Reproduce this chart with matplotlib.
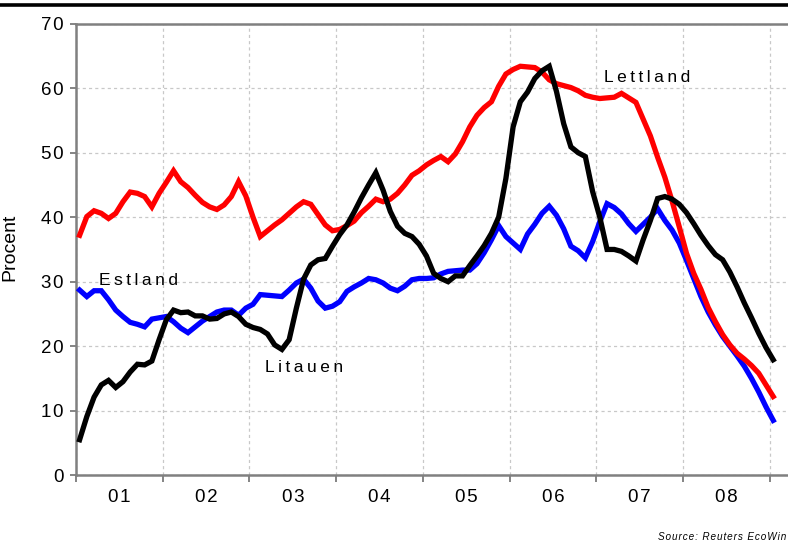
import numpy as np
import matplotlib
matplotlib.use("Agg")
import matplotlib.pyplot as plt
from matplotlib.lines import Line2D

plt.rcParams['font.family'] = ['Liberation Sans', 'DejaVu Sans']

# monthly values, Jan 2001 .. Jan 2009 (mid-month)
lettland = [37.2, 40.1, 41.0, 40.6, 39.8, 40.6, 42.4, 43.9, 43.7, 43.2, 41.6, 43.7,
            45.4, 47.2, 45.5, 44.6, 43.4, 42.3, 41.6, 41.2, 41.9, 43.2, 45.5, 43.3,
            40.0, 37.0, 37.9, 38.8, 39.6, 40.6, 41.6, 42.4, 42.0, 40.4, 38.8, 37.9,
            38.1, 38.7, 39.4, 40.7, 41.7, 42.8, 42.4, 42.8, 43.7, 45.0, 46.5, 47.2,
            48.1, 48.8, 49.4, 48.6, 49.8, 51.7, 54.0, 55.8, 57.0, 57.9, 60.3, 62.2,
            62.9, 63.4, 63.3, 63.2, 62.5, 61.3, 60.7, 60.4, 60.1, 59.6, 58.9, 58.6,
            58.4, 58.5, 58.6, 59.2, 58.5, 57.8, 55.2, 52.6, 49.3, 46.2, 42.5, 38.5,
            34.4, 31.3, 28.8, 26.0, 23.8, 21.8, 20.2, 18.9, 18.0, 17.0, 15.8, 14.0,
            12.2]
estland = [28.7, 27.7, 28.6, 28.6, 27.2, 25.6, 24.6, 23.7, 23.4, 23.0, 24.2, 24.4,
           24.6, 23.8, 22.8, 22.1, 23.0, 23.9, 24.6, 25.3, 25.6, 25.6, 24.8, 25.9,
           26.5, 28.0, 27.9, 27.8, 27.7, 28.7, 29.8, 30.4, 29.0, 27.0, 25.9, 26.2,
           26.9, 28.5, 29.2, 29.8, 30.5, 30.3, 29.8, 29.0, 28.6, 29.3, 30.3, 30.5,
           30.5, 30.6, 31.2, 31.6, 31.7, 31.8, 31.8, 32.8, 34.5, 36.5, 38.7, 37.0,
           36.0, 35.0, 37.4, 38.9, 40.6, 41.7, 40.3, 38.2, 35.5, 34.8, 33.7, 36.2,
           39.3, 42.1, 41.5, 40.5, 39.0, 37.8, 38.9, 40.0, 41.3, 39.5, 38.0, 36.0,
           33.3, 30.5, 27.7, 25.3, 23.3, 21.5, 20.0, 18.5, 16.9, 15.0, 12.9, 10.6,
           8.5]
litauen = [5.5, 9.1, 12.1, 14.0, 14.7, 13.6, 14.5, 16.0, 17.2, 17.1, 17.7, 21.0,
           24.1, 25.6, 25.2, 25.3, 24.7, 24.7, 24.2, 24.3, 25.0, 25.3, 24.6, 23.4,
           22.9, 22.6, 21.9, 20.2, 19.5, 21.0, 25.9, 30.4, 32.6, 33.4, 33.6, 35.5,
           37.3, 38.8, 40.8, 43.0, 45.0, 46.9, 44.2, 40.9, 38.6, 37.5, 37.0, 35.8,
           34.0, 31.3, 30.5, 30.0, 30.9, 30.9, 32.5, 34.0, 35.6, 37.5, 40.0, 46.0,
           54.0, 57.9, 59.4, 61.5, 62.7, 63.4, 59.5, 54.5, 50.9, 50.0, 49.4, 44.0,
           40.0, 35.0, 35.0, 34.7, 34.0, 33.2, 36.5, 39.5, 42.9, 43.2, 42.8, 42.0,
           40.7, 39.0, 37.2, 35.6, 34.2, 33.4, 31.5, 29.2, 26.7, 24.4, 22.0, 19.8,
           17.9]

years = [2001, 2002, 2003, 2004, 2005, 2006, 2007, 2008]
year_labels = ["01", "02", "03", "04", "05", "06", "07", "08"]

t = 2001 + (np.arange(len(lettland)) + 0.5) / 12.0


def spaced(s, sp='\u200a'):
    return sp.join(s)


fig = plt.figure(figsize=(7.88, 5.41), dpi=100)
ax = fig.add_axes([76 / 788, 1 - 475.2 / 541, 1 - 76 / 788, (475.2 - 23.7) / 541])

ax.plot(t, estland, color='#0000ff', lw=3.8, solid_joinstyle='miter', zorder=3)
ax.plot(t, lettland, color='#ff0000', lw=3.8, solid_joinstyle='miter', zorder=4)
ax.plot(t, litauen, color='black', lw=3.8, solid_joinstyle='miter', zorder=5)

ax.set_xlim(2001, 2001 + (788 - 76) / 86.7)
ax.set_ylim(0, 70)

ax.set_yticks(range(0, 71, 10))
ax.set_yticklabels([spaced(str(v)) for v in range(0, 71, 10)], fontsize=13.5)
ax.set_xticks(years + [2009])
ax.set_xticklabels([])
ax.set_xticks([y + 0.5 for y in years], minor=True)
ax.set_xticklabels([spaced(s) for s in year_labels], minor=True, fontsize=13.5)
ax.tick_params(axis='x', which='major', length=5, width=1.2, color='#707070', direction='out')
ax.tick_params(axis='x', which='minor', length=0, pad=10)
ax.tick_params(axis='y', length=4, width=1.2, color='#707070', pad=5)

ax.grid(True, which='major', color='#c8c8c8', lw=0.9, linestyle=(0, (2.5, 2.5)))
ax.set_axisbelow(True)

for side in ['left', 'bottom', 'top']:
    ax.spines[side].set_color('#808080')
    ax.spines[side].set_linewidth(1.8)
ax.spines['right'].set_visible(False)

ax.set_ylabel('Procent', fontsize=14)
ax.yaxis.set_label_coords((18 - 76) / 712, (475.2 - 247.5) / 451.5)

ax.text(2001.27, 29.5, spaced('Estland', '\u2009'), fontsize=12.5, ha='left', va='baseline')
ax.text(2003.18, 16.05, spaced('Litauen', '\u2009'), fontsize=12.5, ha='left', va='baseline')
ax.text(2007.09, 60.9, spaced('Lettland', '\u2009'), fontsize=12.5, ha='left', va='baseline')

fig.text(786 / 788, 1 - 540 / 541, spaced('Source: Reuters EcoWin'), fontsize=7.2,
         style='italic', ha='right', va='baseline')

fig.add_artist(Line2D([0, 1], [1 - 4.7 / 541] * 2, color='black', lw=2.6,
                      transform=fig.transFigure))

fig.savefig('out.png', dpi=100)
